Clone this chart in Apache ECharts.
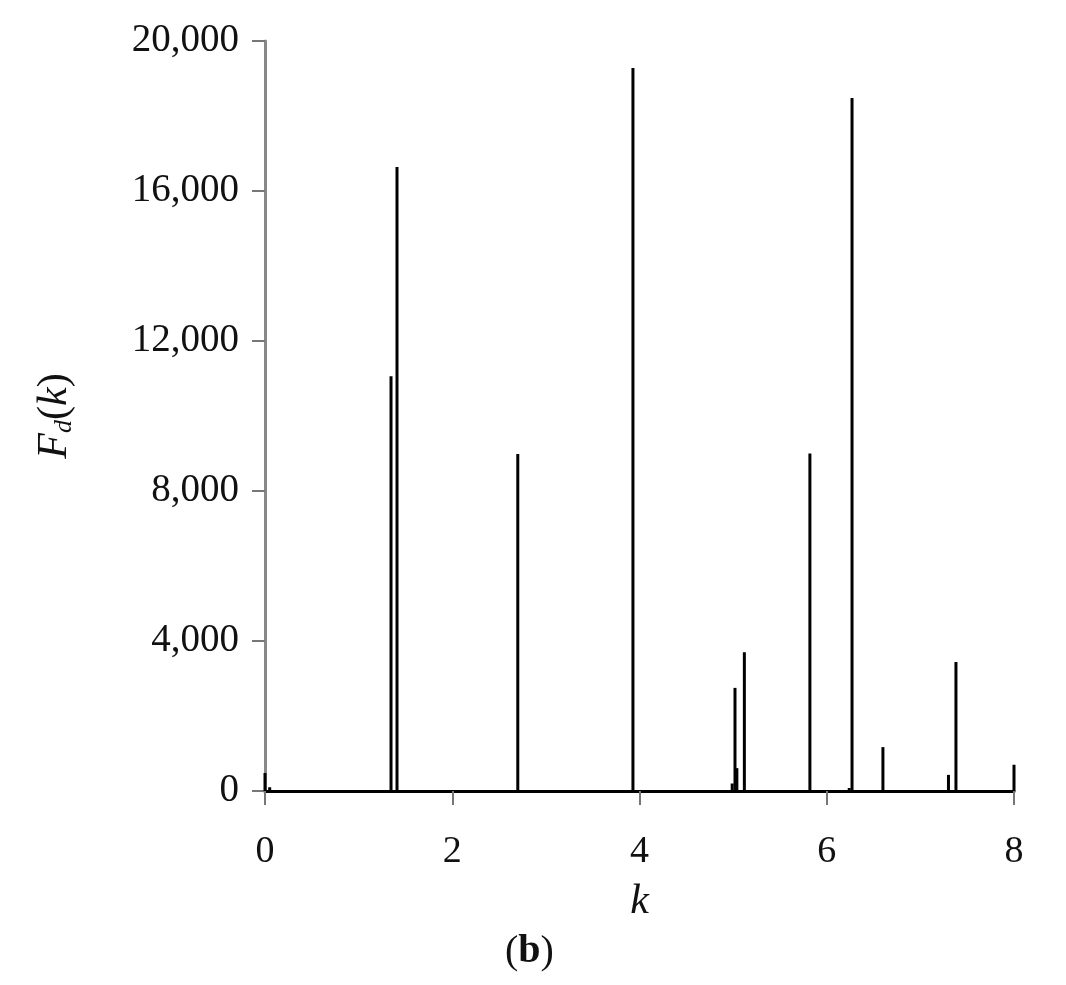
<!DOCTYPE html>
<html><head><meta charset="utf-8">
<script src="https://cdn.jsdelivr.net/npm/echarts@6/dist/echarts.min.js"></script>
<style>html,body{margin:0;padding:0;background:#fff}#c{width:1066px;height:985px}</style>
</head><body><div id="c"></div>
<script>
const kValues = [0, 0.05, 1.346, 1.41, 2.70, 3.93, 4.99, 5.02, 5.04, 5.12, 5.82, 6.24, 6.27, 6.60, 7.30, 7.38, 8.0];
const fValues = [480, 100, 11060, 16640, 8990, 19280, 200, 2750, 610, 3700, 9000, 80, 18480, 1170, 430, 3440, 700];
const yTicks = [0, 4000, 8000, 12000, 16000, 20000];
const xTicks = [0, 2, 4, 6, 8];

const chart = echarts.init(document.getElementById('c'));
const serif = '"Liberation Serif","DejaVu Serif",serif';
chart.setOption({
  animation: false,
  grid: {left: 265, right: 52, top: 41, bottom: 194},
  xAxis: {
    type: 'value', min: xTicks[0], max: xTicks[xTicks.length-1], interval: 2,
    axisLine: {lineStyle: {color: '#000', width: 3}},
    axisTick: {show: true, length: 14, lineStyle: {color: '#777', width: 2}},
    axisLabel: {fontFamily: serif, fontSize: 38, color: '#111', margin: 42},
    splitLine: {show: false},
    name: 'k', nameLocation: 'middle', nameGap: 90,
    nameTextStyle: {fontFamily: serif, fontStyle: 'italic', fontSize: 42, color: '#111'}
  },
  yAxis: {
    type: 'value', min: yTicks[0], max: yTicks[yTicks.length-1], interval: 4000,
    axisLine: {show: true, lineStyle: {color: '#888', width: 3}},
    axisTick: {show: true, length: 13, lineStyle: {color: '#777', width: 2}},
    axisLabel: {fontFamily: serif, fontSize: 39, color: '#111', margin: 26,
      formatter: v => v.toLocaleString('en-US')},
    splitLine: {show: false},
    name: '{i|F}{s|d}{n|(}{i|k}{n|)}', nameLocation: 'middle', nameGap: 188, nameRotate: 90,
    nameTextStyle: {rich: {
      i: {fontFamily: serif, fontStyle: 'italic', fontSize: 42, color: '#111'},
      n: {fontFamily: serif, fontSize: 42, color: '#111'},
      s: {fontFamily: serif, fontStyle: 'italic', fontSize: 26, color: '#111', verticalAlign: 'bottom', padding: [18,0,0,0]}
    }}
  },
  series: [{
    type: 'bar', barWidth: 3, barGap: '-100%',
    itemStyle: {color: '#000'},
    data: kValues.map((k, i) => [k, fValues[i]])
  }],
  graphic: [{
    type: 'text', left: 505, top: 932,
    style: {text: '({b|b})', fontFamily: serif, fontSize: 40, fill: '#111',
      rich: {b: {fontFamily: serif, fontSize: 40, fontWeight: 'bold', fill: '#111'}}}
  }]
});
</script></body></html>
